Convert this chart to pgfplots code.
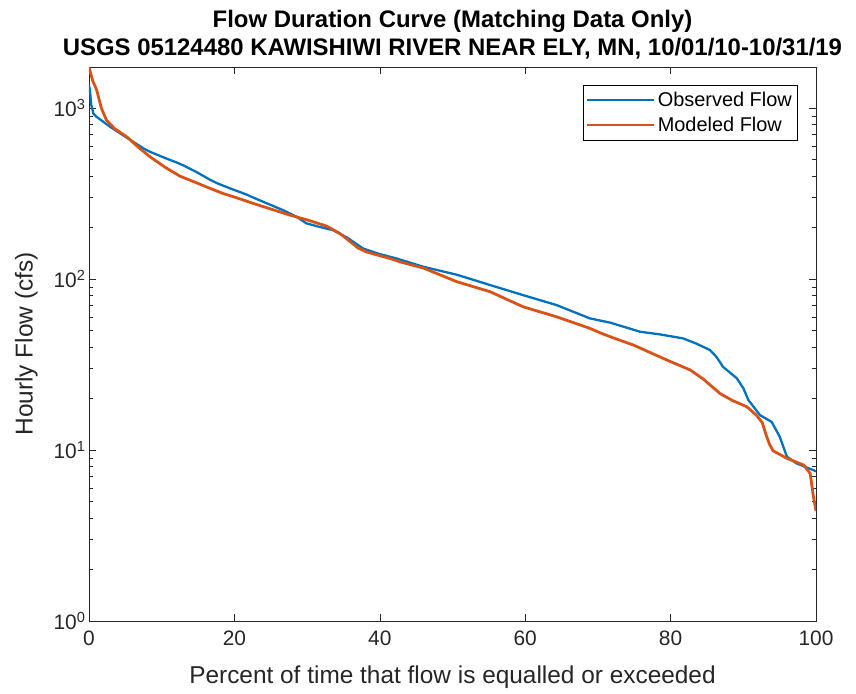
\documentclass[border=0pt]{standalone}
\usepackage{pgfplots}
\pgfplotsset{compat=1.18}
\usepackage{fontspec}
\setmainfont{Liberation Sans}
\definecolor{mblue}{rgb}{0,0.447,0.741}
\definecolor{morange}{rgb}{0.85,0.325,0.098}
\definecolor{axgray}{rgb}{0.15,0.15,0.15}
\begin{document}
\begin{tikzpicture}
\useasboundingbox (-89bp,-73bp) rectangle (767bp,621bp);
\begin{semilogyaxis}[
  scale only axis,
  width=727bp, height=554bp,
  xmin=0, xmax=100, ymin=1, ymax=1740,
  xtick={0,20,40,60,80,100},
  ytick={1,10,100,1000},
  yticklabels={10\textsuperscript{0},10\textsuperscript{1},10\textsuperscript{2},10\textsuperscript{3}},
  /pgf/number format/assume math mode=true,
  tick align=inside,
  xtick pos=both, ytick pos=both,
  major tick length=7bp, minor tick length=4bp,
  axis line style={axgray, line width=0.6pt},
  every tick/.style={axgray, line width=0.6pt},
  tick label style={font=\fontsize{21}{24}\selectfont, color=axgray},
  xticklabel style={yshift=-6bp},
  title={\textbf{Flow Duration Curve (Matching Data Only)}\\\textbf{USGS 05124480 KAWISHIWI RIVER NEAR ELY, MN, 10/01/10-10/31/19}},
  title style={align=center, font=\fontsize{24}{28}\selectfont, yshift=-2bp},
  xlabel={Percent of time that flow is equalled or exceeded},
  ylabel={Hourly Flow (cfs)},
  label style={font=\fontsize{24.5}{28}\selectfont, color=axgray},
  xlabel style={yshift=-14bp},
  ylabel style={yshift=9bp},
  legend style={at={(0.974,0.968)}, anchor=north east, draw=black, line width=0.6pt,
    font=\fontsize{20}{24}\selectfont, inner xsep=3bp, inner ysep=5bp,
    row sep=5bp},
  legend cell align=left,
  legend image code/.code={\draw[#1] (0bp,0bp) -- (67bp,0bp);},
]
\addplot[mblue, line width=2.3pt] coordinates {
(0,1365) (0.15,1250) (0.3,1050) (0.6,930) (1.06,889) (2.0,830) (2.9,778)
(5.0,680) (7.5,581) (8.4,555) (10.5,510) (12.1,480) (13.0,462) (15.0,418)
(16.6,382) (17.6,364) (19.5,338) (21.7,312) (22.1,306) (24.5,277) (26.7,253)
(28.5,232) (29.9,212) (31.5,203) (33.6,193) (35.5,175) (37.7,151) (40.0,140)
(42.3,132) (46.0,118) (50.6,106) (55.2,92.2) (59.7,80.6) (64.3,70.5)
(68.9,58.9) (71.7,55.6) (75.8,49.2) (78.5,47.5) (81.7,45) (83.5,42)
(85.4,38.5) (86.3,35.1) (87.2,30.7) (89.1,26.3) (90.0,23) (90.7,19.6)
(92.3,16.0) (93.9,14.6) (95.0,12.0) (96.0,9.14) (97.3,8.36) (99.6,7.64) (100,7.5)
};
\addlegendentry{Observed Flow}
\addplot[morange, line width=2.8pt] coordinates {
(0,1740) (0.5,1450) (1.06,1274) (1.7,1000) (2.4,851) (3.5,760) (5.2,679)
(6.8,590) (8.4,519) (10.5,450) (12.5,400) (14.5,370) (16.6,340) (18.5,316) (20,302)
(22.6,277) (25,257) (27.6,237) (30,222) (32.7,204) (34.5,185) (35.9,166)
(37.0,152) (38.2,144) (40,137) (41.4,132) (42.8,126) (46.0,116) (48.5,105) (50.6,96.5) (55.2,84.3)
(57.5,76) (59.7,68.9) (64.3,60.2) (68.9,51.5) (70.3,48.5) (72,45.5) (74.9,41.1)
(77.3,37) (79.5,33.6) (82.7,29.4) (84.5,26) (86.8,21.4) (88.5,19.5) (90.5,17.9)
(91.8,16.0) (92.6,14.5) (93.1,12.4) (93.6,10.8) (94.1,9.9) (96.0,8.94) (98.3,8.17)
(99.2,7.3) (99.6,5.5) (100,4.4)
};
\addlegendentry{Modeled Flow}
\end{semilogyaxis}
\end{tikzpicture}
\end{document}
